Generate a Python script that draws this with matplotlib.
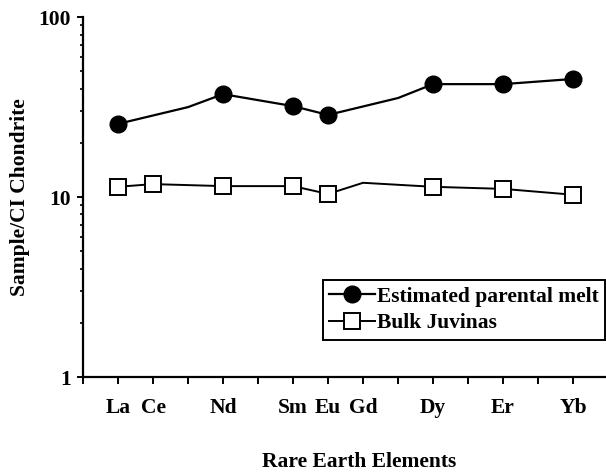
import matplotlib
matplotlib.use('Agg')
import matplotlib.pyplot as plt
from matplotlib.ticker import LogLocator, NullFormatter, FixedLocator, FixedFormatter

plt.rcParams['font.family'] = ['Liberation Serif', 'DejaVu Serif']
plt.rcParams['font.weight'] = 'bold'
FS = 15.5

# REE positions: La=1 ... Yb=14
ree_pos = [1, 2, 4, 6, 7, 8, 10, 12, 14]
ree_labels = ['La', 'Ce', 'Nd', 'Sm', 'Eu', 'Gd', 'Dy', 'Er', 'Yb']

# Estimated parental melt (line vertices, markers only where drawn)
melt_x = [1, 3, 4, 6, 7, 9, 10, 12, 14]
melt_y = [25.5, 31.6, 37.3, 32.0, 28.6, 35.5, 42.4, 42.4, 45.3]
melt_mx = [1, 4, 6, 7, 10, 12, 14]
melt_my = [25.5, 37.3, 32.0, 28.6, 42.4, 42.4, 45.3]

# Bulk Juvinas
bulk_x = [1, 2, 4, 6, 7, 8, 10, 12, 14]
bulk_y = [11.4, 11.8, 11.5, 11.5, 10.4, 12.0, 11.4, 11.1, 10.3]
bulk_mx = [1, 2, 4, 6, 7, 10, 12, 14]
bulk_my = [11.4, 11.8, 11.5, 11.5, 10.4, 11.4, 11.1, 10.3]

fig = plt.figure(figsize=(6.06, 4.74), dpi=100)
ax = fig.add_axes([0.137, 0.2046, 0.863, 0.7594])

ax.plot(melt_x, melt_y, color='black', lw=1.6, zorder=2)
ax.plot(melt_mx, melt_my, 'o', color='black', ms=12, zorder=3)
ax.plot(bulk_x, bulk_y, color='black', lw=1.4, zorder=2)
ax.plot(bulk_mx, bulk_my, 's', mfc='white', mec='black', mew=1.4, ms=11, zorder=3)

# legend handles
h1, = ax.plot([], [], '-o', color='black', lw=1.6, ms=12)
h2, = ax.plot([], [], '-s', color='black', mfc='white', mew=1.4, lw=1.4, ms=11)
leg = ax.legend([h1, h2], ['Estimated parental melt', 'Bulk Juvinas'],
                loc='upper right', bbox_to_anchor=(0.999, 0.269), frameon=True,
                fancybox=False, edgecolor='black', framealpha=1,
                prop={'size': FS, 'weight': 'bold'}, handlelength=2.1,
                handletextpad=0.12, borderpad=0.3, labelspacing=0.3,
                borderaxespad=0)
leg.get_frame().set_linewidth(1.4)

ax.set_yscale('log')
ax.set_ylim(1, 100)
ax.set_xlim(0, 14.94)
ax.yaxis.set_minor_locator(LogLocator(base=10, subs=range(2, 10), numticks=20))
ax.yaxis.set_minor_formatter(NullFormatter())
ax.set_yticks([1, 10, 100])
ax.set_yticklabels(['1', '10', '100'])

# tick marks at every element slot, labels only for analysed elements
ax.xaxis.remove_overlapping_locs = False
ax.xaxis.set_major_locator(FixedLocator(ree_pos))
ax.xaxis.set_major_formatter(FixedFormatter(ree_labels))
ax.xaxis.set_minor_locator(FixedLocator(range(0, 15)))
ax.tick_params(axis='x', which='major', length=0, pad=15, labelsize=FS)
ax.tick_params(axis='x', which='minor', length=5, width=1.4, direction='out')
ax.tick_params(axis='y', which='major', length=4.5, width=1.4, labelsize=FS, pad=4)
ax.tick_params(axis='y', which='minor', length=2.5, width=1.2)

for s in ['top', 'right']:
    ax.spines[s].set_visible(False)
for s in ['left', 'bottom']:
    ax.spines[s].set_linewidth(1.6)

ax.set_ylabel('Sample/CI Chondrite', fontsize=FS, fontweight='bold', labelpad=6)
ax.set_xlabel('Rare Earth Elements', fontsize=FS, fontweight='bold')
ax.xaxis.set_label_coords(0.528, -0.237)
ax.xaxis.label.set_va('center')

fig.savefig('out.png', dpi=100)
